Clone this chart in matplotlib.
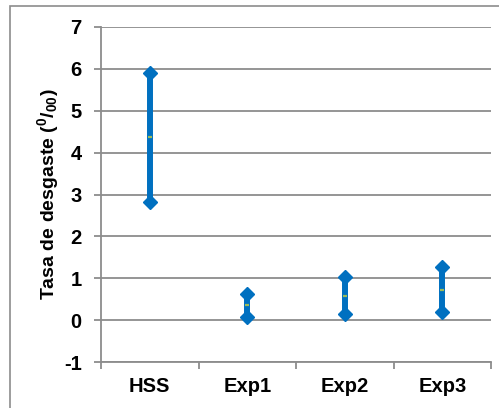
import matplotlib
matplotlib.use('Agg')
import matplotlib.pyplot as plt
from matplotlib.patches import Rectangle

categories = ['HSS', 'Exp1', 'Exp2', 'Exp3']
high = [5.9, 0.62, 1.02, 1.26]
low = [2.83, 0.08, 0.14, 0.19]
mid = [4.37, 0.36, 0.58, 0.73]

plt.rcParams['font.family'] = ['Liberation Sans', 'DejaVu Sans']
plt.rcParams['font.weight'] = 'bold'
plt.rcParams['mathtext.fontset'] = 'custom'
plt.rcParams['mathtext.rm'] = 'Liberation Sans:bold'
plt.rcParams['mathtext.default'] = 'rm'
plt.rcParams['axes.unicode_minus'] = False

grey = '#8c8c8c'
blue = '#0070c0'

fig = plt.figure(figsize=(4.99, 4.08), dpi=100)
fig.patches.append(Rectangle((10 / 499, -0.1), 1.0, 1.1 - 6 / 408, transform=fig.transFigure,
                             fill=False, edgecolor=grey, lw=1.2))
ax = fig.add_axes([101 / 499, 1 - 362 / 408, 390 / 499, 335 / 408])

xs = [i + 0.5 for i in range(len(categories))]
for x, h, l, m in zip(xs, high, low, mid):
    ax.plot([x, x], [l, h], color=blue, lw=4.3, solid_capstyle='butt', zorder=3)
    ax.plot([x, x], [l, h], 'D', color=blue, ms=7.5, zorder=4)
    ax.plot([x], [m], '_', color='#9bbb59', ms=3.5, mew=1.6, zorder=5)

ax.set_xlim(0, 4)
ax.set_ylim(-1, 7)
ax.set_yticks(range(-1, 8))
ax.grid(axis='y', color=grey, lw=1.3)
ax.set_axisbelow(True)

ax.set_xticks([0, 1, 2, 3, 4])
ax.set_xticklabels([])
ax.set_xticks(xs, minor=True)
ax.set_xticklabels(categories, minor=True, fontsize=14.5, fontweight='bold')
ax.tick_params(axis='x', which='major', length=5, color=grey, width=1.3)
ax.tick_params(axis='x', which='minor', length=0, pad=11)
ax.tick_params(axis='y', length=5, color=grey, width=1.3, pad=9, labelsize=14.5)

for s in ['top', 'right']:
    ax.spines[s].set_visible(False)
for s in ['left', 'bottom']:
    ax.spines[s].set_color(grey)
    ax.spines[s].set_linewidth(1.3)

ax.set_ylabel(r'Tasa de desgaste ($^{0}$/$_{00}$)', fontsize=14, fontweight='bold', labelpad=2)

fig.savefig('out.png', dpi=100)
